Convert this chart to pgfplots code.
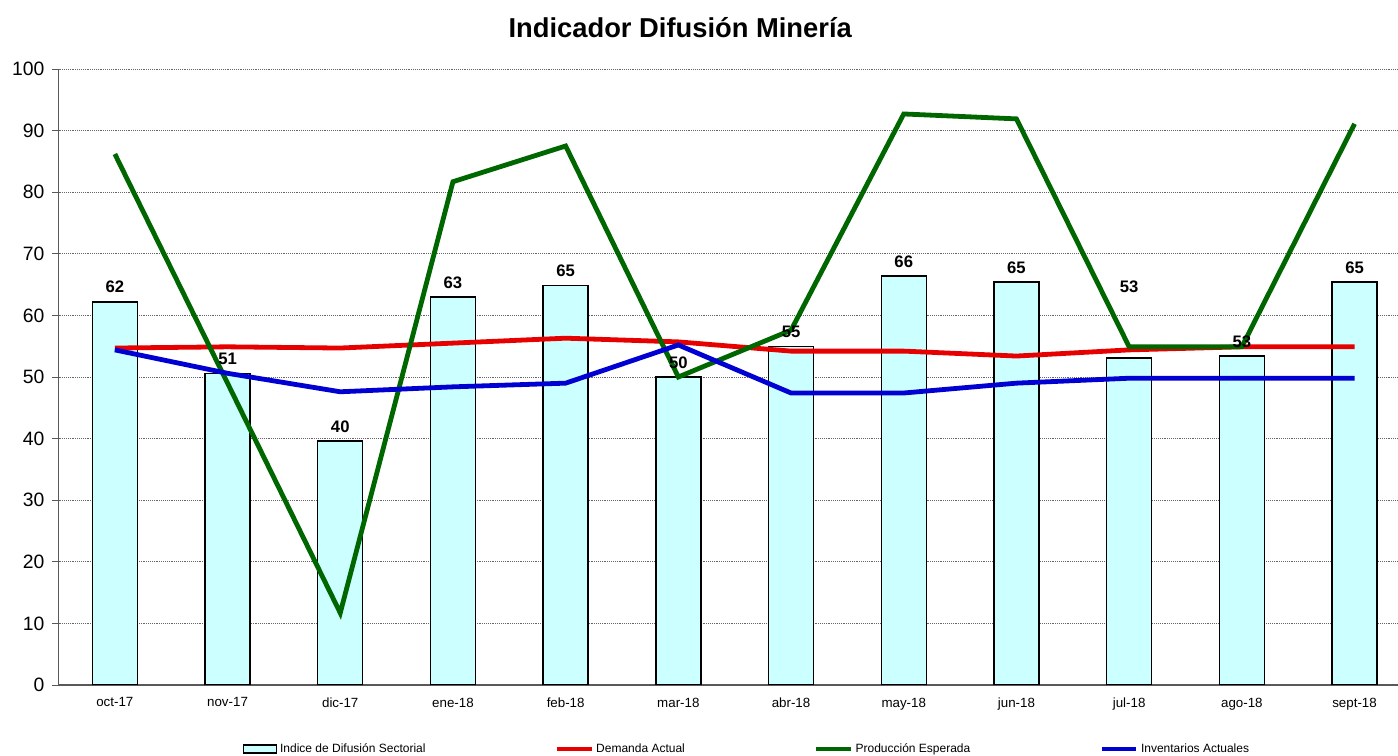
\documentclass[border=0pt]{standalone}
\usepackage{fontspec}
\setmainfont{Liberation Sans}
\usepackage{pgfplots}
\usepackage{pgfplotstable}
\pgfplotsset{compat=1.18}
\definecolor{barfill}{RGB}{204,255,255}
\definecolor{lred}{RGB}{230,0,0}
\definecolor{lgreen}{RGB}{0,102,0}
\definecolor{lblue}{RGB}{0,0,210}
\pgfplotstableread{
x  ids   lab  dem   prod  inv
0  62.2  62   54.7  86.2  54.4
1  50.6  51   54.9  49.0  50.6
2  39.6  40   54.7  11.7  47.6
3  63.0  63   55.5  81.7  48.4
4  64.8  65   56.3  87.5  49.0
5  50.0  50   55.7  50.0  55.2
6  54.9  55   54.2  57.6  47.4
7  66.4  66   54.2  92.7  47.4
8  65.4  65   53.4  91.9  49.0
9  53.1  {}   54.4  54.9  49.8
10 53.4  53   54.9  54.9  49.8
11 65.4  65   54.9  91.1  49.8
}\datatable
\begin{document}
\begin{tikzpicture}
\path[use as bounding box] (0,0) rectangle (1048.5pt,567pt);
\begin{axis}[
  at={(43.875pt,53.25pt)}, anchor=south west,
  scale only axis, width=1005pt, height=462pt,
  xmin=-0.5, xmax=11.39, ymin=0, ymax=100,
  ytick={0,10,...,100},
  xtick={0,...,11},
  xticklabels={oct-17,nov-17,dic-17,ene-18,feb-18,mar-18,abr-18,may-18,jun-18,jul-18,ago-18,sept-18},
  major x tick style={draw=none},
  extra x ticks={-0.5,0.5,...,10.5},
  extra x tick labels={},
  extra x tick style={major tick length=5pt, tick style={draw=gray!70!black, line width=0.6pt}},
  tick align=outside,
  major tick length=5pt,
  ytick style={draw=gray!70!black, line width=0.6pt},
  axis x line*=bottom, axis y line*=left,
  axis line style={-, draw=gray!70!black, line width=0.8pt},
  ymajorgrids,
  grid style={densely dotted, gray!80!black, line width=0.6pt},
  /pgf/number format/assume math mode=true,
  y tick label style={font=\fontsize{14.5}{14.5}\selectfont, xshift=-2pt},
  x tick label style={font=\fontsize{10}{10}\selectfont, yshift=-1pt},
  title={\textbf{Indicador Difusión Minería}},
  title style={font=\fontsize{20.5}{20.5}\selectfont, at={(0.464,1.055)}, anchor=center},
  legend columns=4,
  legend style={draw=none, fill=none, at={(0.514,-0.104)}, anchor=center,
    font=\fontsize{9}{9}\selectfont,
    /tikz/every even column/.append style={column sep=95pt}},
  legend cell align=left,
]
\addplot[ybar, bar width=33.75pt, bar shift=0pt, fill=barfill, draw=black, line width=1pt,
  legend image code/.code={\draw[fill=barfill, draw=black, line width=1pt] (0pt,-3pt) rectangle (25pt,3pt);}]
  table[x=x, y=ids] {\datatable};
\addlegendentry{Indice de Difusión Sectorial}
\addplot[lred, line width=3.6pt, sharp plot,
  legend image code/.code={\draw[lred, line width=3pt] (0pt,0pt) -- (26pt,0pt);}]
  table[x=x, y=dem] {\datatable};
\addlegendentry{Demanda Actual}
\addplot[lgreen, line width=3.6pt, sharp plot,
  legend image code/.code={\draw[lgreen, line width=3pt] (0pt,0pt) -- (26pt,0pt);}]
  table[x=x, y=prod] {\datatable};
\addlegendentry{Producción Esperada}
\addplot[lblue, line width=3.6pt, sharp plot,
  legend image code/.code={\draw[lblue, line width=3pt] (0pt,0pt) -- (26pt,0pt);}]
  table[x=x, y=inv] {\datatable};
\addlegendentry{Inventarios Actuales}
\addplot[draw=none, mark=none, forget plot,
  nodes near coords, point meta=explicit symbolic,
  every node near coord/.append style={font=\bfseries\fontsize{12.5}{12.5}\selectfont, yshift=3pt}]
  table[x=x, y=ids, meta=lab] {\datatable};
\node[font=\bfseries\fontsize{12.5}{12.5}\selectfont] at (axis cs:9,64.6) {53};
\end{axis}
\end{tikzpicture}
\end{document}
